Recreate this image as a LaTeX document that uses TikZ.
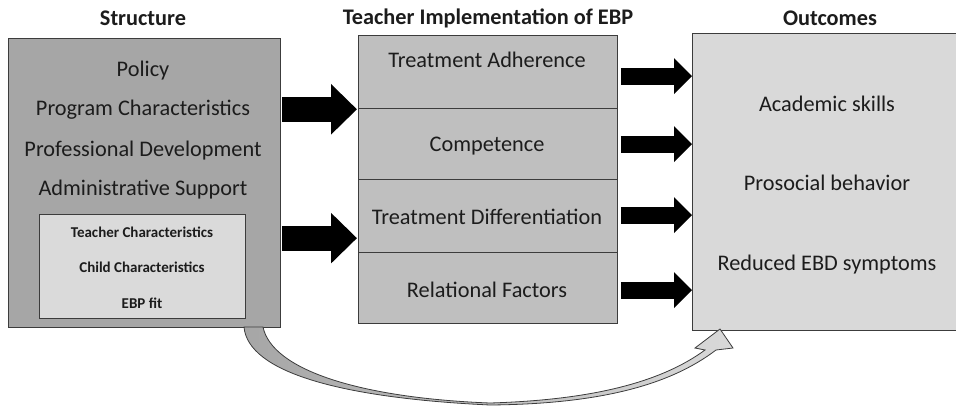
\documentclass[tikz,border=0pt]{standalone}
\usepackage{fontspec}
\setmainfont{Carlito}
\usetikzlibrary{arrows.meta,positioning,calc}

\definecolor{structgray}{HTML}{A6A6A6}
\definecolor{implgray}{HTML}{BFBFBF}
\definecolor{outgray}{HTML}{D9D9D9}
\definecolor{innergray}{HTML}{DADADA}
\definecolor{edgegray}{HTML}{3C3C3C}
\definecolor{inkgray}{HTML}{1C1C1C}

\tikzset{
  box/.style={draw=edgegray, line width=1.3pt, anchor=north west, inner sep=0pt},
  title/.style={font=\fontsize{22.3}{26}\selectfont\bfseries, text=inkgray},
  item/.style={font=\fontsize{22.3}{26}\selectfont, text=inkgray},
  smallitem/.style={font=\fontsize{15}{18}\selectfont\bfseries, text=inkgray},
  bigarrow/.style={line width=25pt, -{Triangle[length=26pt, width=49pt]}},
  smallarrow/.style={line width=17pt, -{Triangle[length=18pt, width=35pt]}},
}

\begin{document}
\begin{tikzpicture}[x=1pt, y=-1pt]
\useasboundingbox (0,0) rectangle (956,407);

% Column titles
\node[title] (structtitle) at (143,18) {Structure};
\node[title] (impltitle) at (488,18) {Teacher Implementation of EBP};
\node[title] (outtitle) at (830,18) {Outcomes};

% Structure box
\node[box, fill=structgray, minimum width=272pt, minimum height=289pt] (struct) at (8,38) {};
\node[item] (policy) at (143,71) {Policy};
\node[item] (progchar) at (143,110) {Program Characteristics};
\node[item] (profdev) at (143,151) {Professional Development};
\node[item] (adminsup) at (143,190) {Administrative Support};

% Inner box of characteristics
\node[box, fill=innergray, minimum width=206pt, minimum height=104pt] (inner) at (39,214) {};
\node[smallitem] (teachchar) at (142,232) {Teacher Characteristics};
\node[smallitem] (childchar) at (142,267) {Child Characteristics};
\node[smallitem] (ebpfit) at (142,303) {EBP fit};

% Implementation column, four rows
\node[box, fill=implgray, minimum width=259pt, minimum height=73pt] (adh) at (358,35) {};
\node[box, fill=implgray, minimum width=259pt, minimum height=71pt] (comp) at (358,108) {};
\node[box, fill=implgray, minimum width=259pt, minimum height=73pt] (diff) at (358,179) {};
\node[box, fill=implgray, minimum width=259pt, minimum height=71pt] (rel) at (358,252) {};
\node[item] (adhtext) at (487,60) {Treatment Adherence};
\node[item] (comptext) at (487,146) {Competence};
\node[item] (difftext) at (487,217) {Treatment Differentiation};
\node[item] (reltext) at (487,290) {Relational Factors};

% Outcomes box (runs off the right edge)
\node[box, fill=outgray, minimum width=272pt, minimum height=297pt] (outc) at (692,33) {};
\node[item] (acad) at (827,104) {Academic skills};
\node[item] (prosoc) at (827,183) {Prosocial behavior};
\node[item] (ebd) at (827,265) {Reduced EBD symptoms};

% Block arrows into the implementation column
\draw[bigarrow] ([xshift=1pt]struct.east |- adh.south) -- ([xshift=-1pt]adh.south west);
\draw[bigarrow] ([xshift=1pt,yshift=-22pt]struct.east |- diff.west) -- ([xshift=-1pt,yshift=-22pt]diff.west);

% Block arrows into the outcomes
\draw[smallarrow] ([xshift=2.5pt,yshift=-4pt]adh.east) -- ([yshift=-4pt]adh.east -| outc.west);
\draw[smallarrow] ([xshift=2.5pt]comp.east) -- (comp.east -| outc.west);
\draw[smallarrow] ([xshift=2.5pt,yshift=1pt]diff.east) -- ([yshift=1pt]diff.east -| outc.west);
\draw[smallarrow] ([xshift=2.5pt,yshift=-2pt]rel.east) -- ([yshift=-2pt]rel.east -| outc.west);

% Curved arrow from structure straight to outcomes
\draw[edgegray, line width=0.8pt, left color=structgray, right color=outgray]
  (244,327) .. controls (248,372) and (340,398) .. (490,405)
  .. controls (600,404) and (670,385) .. (716,350)
  -- (733,348) -- (720,329) -- (695,348) -- (705,350)
  .. controls (660,383) and (590,400) .. (490,403)
  .. controls (360,398) and (272,370) .. (263,327) -- cycle;
\end{tikzpicture}
\end{document}
